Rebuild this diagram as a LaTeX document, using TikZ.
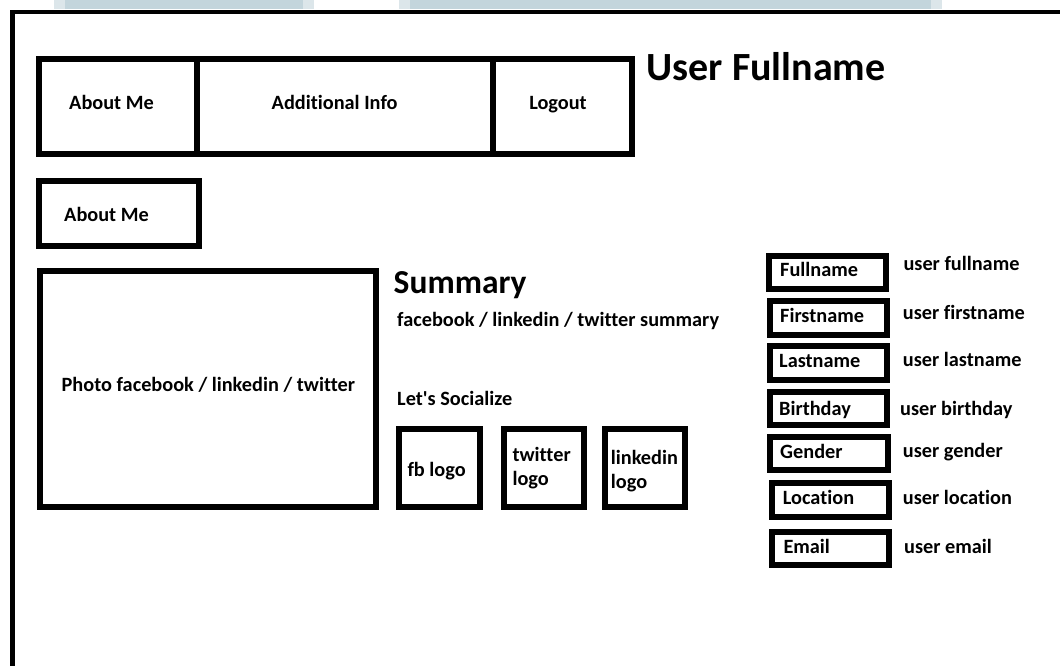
\documentclass[tikz,border=0pt]{standalone}
\usepackage{fontspec}
\setmainfont{Carlito}[Ligatures={TeXOff,NoCommon}]
\definecolor{barfill}{HTML}{C3D5DC}
\definecolor{baredge}{HTML}{DCE6EA}
\begin{document}
\begin{tikzpicture}[x=1pt,y=-1pt,
  box/.style={draw=black, line width=6pt, inner sep=0pt, outer sep=0pt, fill=none},
  lbl/.style={font=\bfseries\fontsize{20.3}{24}\selectfont, inner sep=0pt, anchor=base west},
  lblc/.style={lbl, anchor=base},
  title/.style={font=\bfseries\fontsize{40}{46}\selectfont, inner sep=0pt, anchor=base west},
  heading/.style={font=\bfseries\fontsize{33.5}{40}\selectfont, inner sep=0pt, anchor=base west}]
\useasboundingbox[fill=white] (0,0) rectangle (1060,666);

% browser tab strips at the top edge
\fill[baredge] (54,0) rectangle (314,9.5);
\fill[barfill] (65,0) rectangle (303,9.5);
\fill[baredge] (399,0) rectangle (942,9.5);
\fill[barfill] (410,0) rectangle (931,9.5);

% page frame
\coordinate (fbot) at (12.3,666);
\coordinate (fcorner) at (12.3,12);
\coordinate (fright) at (1060,12);
\draw[line width=4.5pt] (fbot) -- (fcorner) -- (fright);

% navigation bar
\node[box, minimum width=157.7, minimum height=95.5] (nav1) at (117.85,106.75) {};
\node[box, minimum width=296.3, minimum height=95.5] (nav2) at (344.85,106.75) {};
\node[box, minimum width=138.5, minimum height=95.5] (nav3) at (562.25,106.75) {};
\node[lblc] (navt1) at (111.5,110) {About Me};
\node[lblc] (navt2) at (334.6,110) {Additional Info};
\node[lblc] (navt3) at (558,110) {Logout};

\node[title] (uname) at (646.5,81) {User Fullname};

% section tab
\node[box, minimum width=160.5, minimum height=65] (abox) at (118.75,213) {};
\node[lbl] (atext) at (64,221) {About Me};

% photo
\node[box, minimum width=336, minimum height=236] (photo) at (208.3,389) {};
\node[lblc] (phtext) at (208.3,391.7) {Photo facebook / linkedin / twitter};

% summary
\node[heading] (summ) at (393.5,293) {Summary};
\node[lbl] (summt) at (397,326.7) {facebook / linkedin / twitter summary};
\node[lbl] (social) at (397,405) {Let's Socialize};

% social logos
\node[box, minimum width=80.7, minimum height=78] (fb) at (439.35,468) {};
\node[box, minimum width=80.6, minimum height=78] (tw) at (544,468) {};
\node[box, minimum width=80.6, minimum height=78] (li) at (645,468) {};
\node[lbl] (fbt) at (407.3,476.7) {fb logo};
\node[lbl] (twt1) at (512.3,461.7) {twitter};
\node[lbl] (twt2) at (512.3,485) {logo};
\node[lbl] (lit1) at (610.7,464) {linkedin};
\node[lbl] (lit2) at (610.7,488) {logo};

% profile fields
\node[box, minimum width=116.7, minimum height=33] (f1) at (827.35,272.2) {};
\node[box, minimum width=117.3, minimum height=33.4] (f2) at (828.35,318) {};
\node[box, minimum width=117.3, minimum height=33.4] (f3) at (828.35,363) {};
\node[box, minimum width=117.3, minimum height=33] (f4) at (828.35,408.8) {};
\node[box, minimum width=117.7, minimum height=33] (f5) at (829.15,453.8) {};
\node[box, minimum width=117, minimum height=34] (f6) at (830.8,500) {};
\node[box, minimum width=117, minimum height=33] (f7) at (830.8,548.8) {};

\node[lbl] (k1) at (780,276.7) {Fullname};
\node[lbl] (k2) at (780,322.7) {Firstname};
\node[lbl] (k3) at (779,367.7) {Lastname};
\node[lbl] (k4) at (779,415.7) {Birthday};
\node[lbl] (k5) at (780,458.3) {Gender};
\node[lbl] (k6) at (782.7,504) {Location};
\node[lbl] (k7) at (783.3,553.3) {Email};

\node[lbl] (v1) at (903.3,270.7) {user fullname};
\node[lbl] (v2) at (902.7,319.3) {user firstname};
\node[lbl] (v3) at (902.7,366.7) {user lastname};
\node[lbl] (v4) at (900,415.7) {user birthday};
\node[lbl] (v5) at (902.7,457.7) {user gender};
\node[lbl] (v6) at (902.7,504) {user location};
\node[lbl] (v7) at (904,553.3) {user email};
\end{tikzpicture}
\end{document}
